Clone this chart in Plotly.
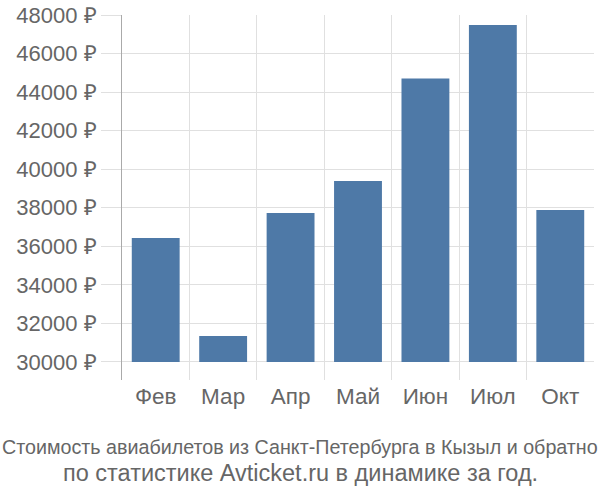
import plotly.graph_objects as go

months = ["Фев", "Мар", "Апр", "Май", "Июн", "Июл", "Окт"]
prices = [36430, 31350, 37730, 39390, 44700, 47480, 37880]
base_value = 30000
tick_values = list(range(30000, 48001, 2000))
tick_labels = [f"{v} ₽" for v in tick_values]
title_line1 = "Стоимость авиабилетов из Санкт-Петербурга в Кызыл и обратно"
title_line2 = "по статистике Avticket.ru в динамике за год."

fig = go.Figure(go.Bar(
    x=months,
    y=[p - base_value for p in prices],
    base=base_value,
    marker=dict(color="#4e79a7", line=dict(width=0)),
    hoverinfo="skip",
))

plot_top, plot_bottom = 15, 380
plot_left, plot_right = 122, 594
H = plot_bottom - plot_top
W = plot_right - plot_left

def ypaper(px):
    return (plot_bottom - px) / H

xc = (300 - plot_left) / W

fig.update_layout(
    width=600, height=500,
    margin=dict(l=plot_left, r=600 - plot_right, t=plot_top, b=500 - plot_bottom, pad=0),
    paper_bgcolor="white", plot_bgcolor="white",
    bargap=0.29,
    showlegend=False,
    font=dict(family="Liberation Sans, Arial, sans-serif", color="#666666"),
    annotations=[
        dict(text=title_line1, x=xc, xref="paper", xanchor="center",
             y=ypaper(447), yref="paper", yanchor="middle", showarrow=False,
             font=dict(family="Liberation Sans Narrow, Liberation Sans, sans-serif", size=19.7, color="#666666")),
        dict(text=title_line2, x=xc, xref="paper", xanchor="center",
             y=ypaper(473), yref="paper", yanchor="middle", showarrow=False,
             font=dict(family="Liberation Sans, sans-serif", size=23.5, color="#666666")),
    ],
)

fig.update_yaxes(
    automargin=False,
    range=[29066, 48000],
    tickmode="array",
    tickvals=tick_values,
    ticktext=tick_labels,
    showgrid=True, gridcolor="#e0e0e0", gridwidth=1,
    ticks="outside", ticklen=20, tickcolor="#e0e0e0",
    showline=True, linecolor="#aaaaaa", linewidth=1,
    zeroline=False,
    tickfont=dict(size=22, color="#666666"),
)
fig.update_xaxes(
    automargin=False,
    tickson="boundaries",
    showgrid=True, gridcolor="#e0e0e0", gridwidth=1,
    ticks="", showline=False, zeroline=False,
    tickfont=dict(size=22.5, color="#666666"),
)

fig.write_html("out.html")
